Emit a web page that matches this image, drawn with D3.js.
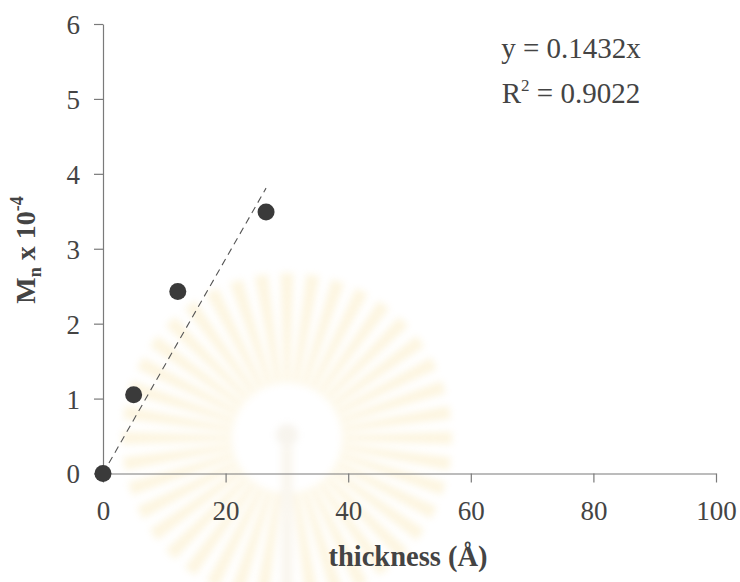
<!DOCTYPE html>
<html>
<head>
<meta charset="utf-8">
<script src="https://cdn.jsdelivr.net/npm/d3@7"></script>
<style>
  body { margin: 0; background: #fff; }
  text { font-family: "Liberation Serif", "DejaVu Serif", serif; }
</style>
</head>
<body>
<svg id="drawing_region"></svg>
<script>
// data
var thickness = [0, 5.0, 12.2, 26.6];
var mn = [0, 1.05, 2.43, 3.49];
var xticks = [0, 20, 40, 60, 80, 100];
var yticks = [0, 1, 2, 3, 4, 5, 6];
var slope = 0.1432;
var r2 = 0.9022;

var width = 740;
var height = 582;
var margin = {top:24, right:24, bottom:109, left:103};

var svg = d3.select('#drawing_region')
    .attr('width', width)
    .attr('height', height);

const xscale = d3.scaleLinear()
      .domain([0, 100])
      .range([0, 613]);

const yscale = d3.scaleLinear()
      .domain([0, 6])
      .range([449.5, 0]);

// faint watermark emblem behind the plot
var defs = svg.append('defs');
defs.append('filter').attr('id', 'soft')
    .append('feGaussianBlur').attr('stdDeviation', 3.5);

var wm = svg.append('g')
    .attr('transform', 'translate(287, 438)')
    .attr('filter', 'url(#soft)')
    .attr('opacity', 0.2);
var rays = d3.range(0, 40);
wm.selectAll('path.ray')
  .data(rays)
  .enter().append('path')
    .attr('class', 'ray')
    .attr('d', function(i) {
        var a = i / 40 * 2 * Math.PI;
        var r0 = 55, r1 = 165;
        return 'M' + (r0*Math.cos(a-0.05)) + ',' + (r0*Math.sin(a-0.05)) +
               'L' + (r1*Math.cos(a-0.04)) + ',' + (r1*Math.sin(a-0.04)) +
               'L' + (r1*Math.cos(a+0.04)) + ',' + (r1*Math.sin(a+0.04)) +
               'L' + (r0*Math.cos(a+0.05)) + ',' + (r0*Math.sin(a+0.05)) + 'Z';
    })
    .attr('fill', '#f4d06a');
wm.append('circle').attr('cx', 0).attr('cy', -3).attr('r', 11).attr('fill', '#d9c9a8');
wm.append('rect').attr('x', -6).attr('y', 8).attr('width', 12).attr('height', 140).attr('fill', '#e6d6b0');

var chart = svg.append('g')
    .attr('transform', `translate(${margin.left}, ${margin.top})`);

const xaxis = d3.axisBottom(xscale)
      .tickValues(xticks)
      .tickFormat(d3.format('d'))
      .tickSize(9)
      .tickSizeOuter(0)
      .tickPadding(12);

const yaxis = d3.axisLeft(yscale)
      .tickValues(yticks)
      .tickFormat(d3.format('d'))
      .tickSize(9)
      .tickSizeOuter(0)
      .tickPadding(14);

const xaxis_group = chart.append('g')
      .attr('transform', `translate(0, ${yscale(0)})`)
      .call(xaxis);

const yaxis_group = chart.append('g')
      .call(yaxis);

[xaxis_group, yaxis_group].forEach(function(g) {
    g.selectAll('path, line').attr('stroke', '#7a7a7a').attr('stroke-width', 1.2);
    g.selectAll('text')
        .attr('fill', '#444')
        .style('font-size', '27px')
        .style('font-family', '"Liberation Serif", serif');
});
xaxis_group.selectAll('text').attr('dy', '0.95em');
yaxis_group.selectAll('text').attr('dy', '0.35em');

// linear trendline through origin
const xmax = d3.max(thickness);
const line = d3.line()
      .x(d => xscale(d))
      .y(d => yscale(slope * d));

chart.append('path')
    .attr('d', line([0, xmax]))
    .attr('stroke', '#555')
    .attr('stroke-width', 1.1)
    .attr('stroke-dasharray', '7,5')
    .attr('fill', 'none');

chart.selectAll('circle.pt')
    .data(thickness)
    .enter().append('circle')
    .attr('class', 'pt')
    .attr('cx', (d) => xscale(d))
    .attr('cy', (d, i) => yscale(mn[i]))
    .attr('r', 8.5)
    .attr('fill', '#3a3a3a');

// equation text
var eq = svg.append('g').attr('fill', '#444').style('font-size', '29px');
eq.append('text')
    .attr('x', 571).attr('y', 58)
    .attr('text-anchor', 'middle')
    .text('y = ' + slope + 'x');
var r2t = eq.append('text')
    .attr('x', 571).attr('y', 103)
    .attr('text-anchor', 'middle');
r2t.append('tspan').text('R');
r2t.append('tspan').attr('dy', -12).style('font-size', '17px').text('2');
r2t.append('tspan').attr('dy', 12).text(' = ' + r2);

// axis titles
svg.append('text')
    .attr('x', 408).attr('y', 566)
    .attr('text-anchor', 'middle')
    .attr('fill', '#444')
    .style('font-size', '28.5px')
    .style('font-weight', 'bold')
    .text('thickness (Å)');

var ylab = svg.append('text')
    .attr('transform', 'translate(35, 250) rotate(-90)')
    .attr('text-anchor', 'middle')
    .attr('fill', '#444')
    .style('font-size', '28px')
    .style('font-weight', 'bold');
ylab.append('tspan').text('M');
ylab.append('tspan').attr('dy', 6).style('font-size', '18px').text('n');
ylab.append('tspan').attr('dy', -6).text(' x 10');
ylab.append('tspan').attr('dy', -12).style('font-size', '18px').text('-4');
</script>
</body>
</html>
